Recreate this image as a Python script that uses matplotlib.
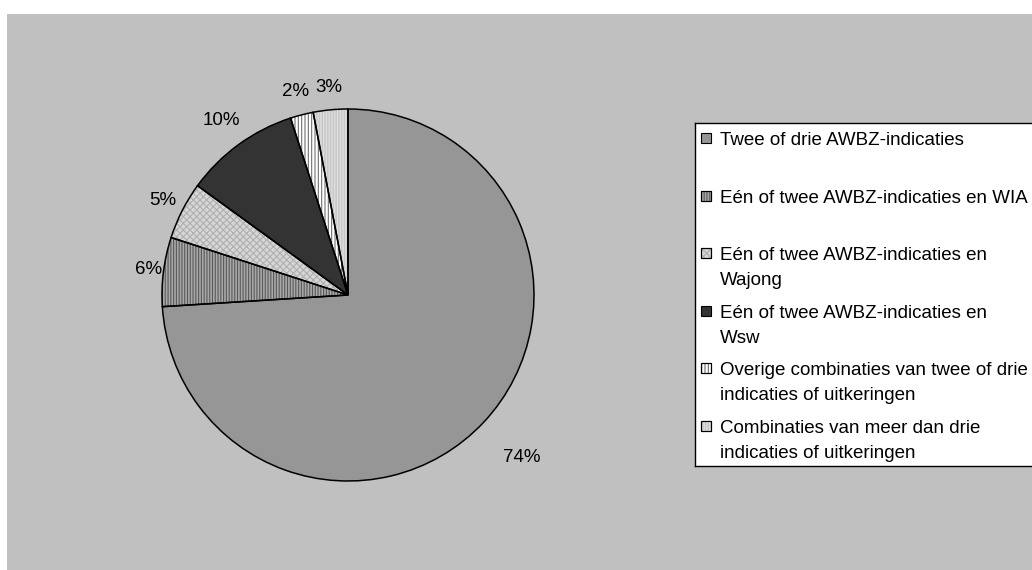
import numpy as np
import matplotlib
matplotlib.use("Agg")
import matplotlib.pyplot as plt
from matplotlib.patches import Wedge, Rectangle

plt.rcParams["font.family"] = ["Liberation Sans", "DejaVu Sans"]
plt.rcParams["hatch.linewidth"] = 0.8

# data
categories = [
    "Twee of drie AWBZ-indicaties",
    "Eén of twee AWBZ-indicaties en WIA",
    "Eén of twee AWBZ-indicaties en\nWajong",
    "Eén of twee AWBZ-indicaties en\nWsw",
    "Overige combinaties van twee of drie\nindicaties of uitkeringen",
    "Combinaties van meer dan drie\nindicaties of uitkeringen",
]
shares = [74, 6, 5, 10, 2, 3]
pct_labels = ["74%", "6%", "5%", "10%", "2%", "3%"]

# styles (fill, hatch pattern, hatch colour)
fills = ["#969696", "#a8a8a8", "#d6d6d6", "#333333", "#ffffff", "#c8c8c8"]
hatches = [None, "||||||", "xxxxx", None, "|||||", "||||||"]
hatch_cols = [None, "#595959", "#b0b0b0", None, "#707070", "#e2e2e2"]
label_r = [1.28, 1.08, 1.12, 1.16, 1.13, 1.12]

W, H = 1032, 570
fig = plt.figure(figsize=(W / 100, H / 100), dpi=100)
fig.patch.set_facecolor("white")

# grey chart area
fig.add_artist(Rectangle((7 / W, 0), 1 - 7 / W, (H - 14) / H,
                         transform=fig.transFigure, facecolor="#c0c0c0",
                         edgecolor="none", zorder=0))

# pie
cx, cy, r = 348, 295, 186
ax = fig.add_axes([(cx - r) / W, (H - cy - r) / H, 2 * r / W, 2 * r / H])

wedges, _ = ax.pie(shares, colors=fills, startangle=90, counterclock=False,
                   radius=1, wedgeprops=dict(edgecolor="black", linewidth=0))
ax.set_xlim(-1, 1)
ax.set_ylim(-1, 1)
ax.axis("off")

for w, hp, hc in zip(wedges, hatches, hatch_cols):
    w.set_clip_on(False)
    if hp:
        ax.add_patch(Wedge(w.center, w.r, w.theta1, w.theta2, facecolor="none",
                           edgecolor=hc, linewidth=0, hatch=hp, zorder=3,
                           clip_on=False))
    ax.add_patch(Wedge(w.center, w.r, w.theta1, w.theta2, facecolor="none",
                       edgecolor="black", linewidth=1.1, zorder=4,
                       clip_on=False))

for w, lab, lr in zip(wedges, pct_labels, label_r):
    mid = np.deg2rad((w.theta1 + w.theta2) / 2)
    ax.text(lr * np.cos(mid), lr * np.sin(mid), lab, ha="center", va="center",
            fontsize=13.5, color="black", clip_on=False)

# legend box drawn by hand (pixel units inside)
lx, ltop, lbot = 695, 123, 466
lw_px = 360
lax = fig.add_axes([lx / W, (H - lbot) / H, lw_px / W, (lbot - ltop) / H])
lax.set_xlim(0, lw_px)
lax.set_ylim(lbot - ltop, 0)
lax.set_facecolor("white")
lax.set_xticks([])
lax.set_yticks([])
for s in lax.spines.values():
    s.set_color("black")
    s.set_linewidth(1.0)

for i, (cat, fc, hp, hc) in enumerate(zip(categories, fills, hatches, hatch_cols)):
    base = 22 + 57.6 * i
    lax.add_patch(Rectangle((6, base - 12), 10, 10, facecolor=fc,
                            edgecolor="black", linewidth=0.8))
    if hp:
        lax.add_patch(Rectangle((6, base - 12), 10, 10, facecolor="none",
                                edgecolor=hc, linewidth=0, hatch=hp))
        lax.add_patch(Rectangle((6, base - 12), 10, 10, facecolor="none",
                                edgecolor="black", linewidth=0.8))
    for k, line in enumerate(cat.split("\n")):
        lax.text(25, base + 25 * k, line, ha="left", va="baseline",
                 fontsize=13.5, color="black", clip_on=True)

fig.savefig("out.png", dpi=100)
